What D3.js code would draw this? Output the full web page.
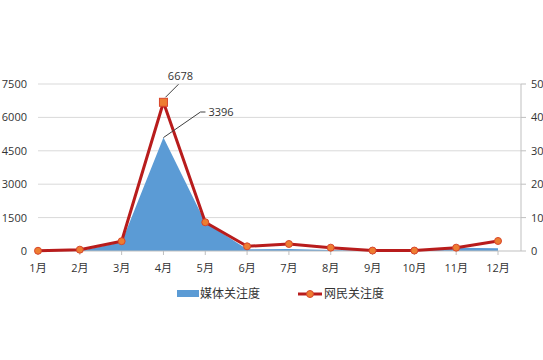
<!doctype html>
<html lang="zh">
<head>
<meta charset="utf-8">
<style>
  body { margin: 0; background: #fff; }
  text { font-family: "Open Sans", "Noto Sans CJK SC", sans-serif; fill: #333; }
</style>
</head>
<body>
<svg id="chart" width="543" height="360"></svg>
<script src="https://cdnjs.cloudflare.com/ajax/libs/d3/7.8.5/d3.min.js"></script>
<script>
// data
var months = ["1月","2月","3月","4月","5月","6月","7月","8月","9月","10月","11月","12月"];
var media = [0, 0, 260, 3396, 860, 50, 60, 30, 10, 10, 100, 80];        // 媒体关注度, right axis
var netizen = [10, 60, 440, 6678, 1290, 210, 315, 150, 20, 20, 150, 450]; // 网民关注度, left axis
var leftTicks = [0, 1500, 3000, 4500, 6000, 7500];
var rightTicks = [0, 1000, 2000, 3000, 4000, 5000];

var svg = d3.select("#chart");
var x0 = 38, x1 = 498, xr = 521, yb = 251, yt = 84;

var x = d3.scalePoint().domain(months).range([x0, x1]);
var yl = d3.scaleLinear().domain([0, 7500]).range([yb, yt]);
var yr = d3.scaleLinear().domain([0, 5000]).range([yb, yt]);

// gridlines
svg.append("g").selectAll("line")
   .data(leftTicks.slice(1))
   .enter().append("line")
   .attr("x1", x0).attr("x2", xr)
   .attr("y1", function(d){ return yl(d); })
   .attr("y2", function(d){ return yl(d); })
   .attr("stroke", "#d9d9d9").attr("stroke-width", 1);

// left axis labels
svg.append("g").selectAll("text")
   .data(leftTicks)
   .enter().append("text")
   .attr("x", 27).attr("y", function(d){ return yl(d) + 4; })
   .attr("text-anchor", "end").attr("font-size", 11)
   .text(function(d){ return d; });

// right axis (labels run past the right edge, as in the original)
svg.append("line").attr("x1", xr).attr("x2", xr).attr("y1", yt).attr("y2", yb)
   .attr("stroke", "#bfbfbf");
var ra = svg.append("g");
ra.selectAll("line").data(rightTicks).enter().append("line")
  .attr("x1", xr).attr("x2", xr + 5)
  .attr("y1", function(d){ return yr(d); }).attr("y2", function(d){ return yr(d); })
  .attr("stroke", "#bfbfbf");
ra.selectAll("text").data(rightTicks).enter().append("text")
  .attr("x", 531).attr("y", function(d){ return yr(d) + 4; })
  .attr("font-size", 11)
  .text(function(d){ return d; });

// area
var area = d3.area()
  .x(function(d, i){ return x(months[i]); })
  .y0(yb)
  .y1(function(d){ return yr(d); });
svg.append("path").datum(media).attr("d", area).attr("fill", "#5b9bd5");

// category axis
svg.append("line").attr("x1", x0).attr("x2", xr).attr("y1", yb).attr("y2", yb)
   .attr("stroke", "#bfbfbf");
var ca = svg.append("g");
ca.selectAll("line").data(months).enter().append("line")
  .attr("x1", function(d){ return x(d); }).attr("x2", function(d){ return x(d); })
  .attr("y1", yb).attr("y2", yb + 4).attr("stroke", "#bfbfbf");
ca.selectAll("text").data(months).enter().append("text")
  .attr("x", function(d){ return x(d); }).attr("y", 272)
  .attr("text-anchor", "middle").attr("font-size", 11)
  .text(function(d){ return d; });

// line
var line = d3.line()
  .x(function(d, i){ return x(months[i]); })
  .y(function(d){ return yl(d); });
svg.append("path").datum(netizen).attr("d", line)
   .attr("fill", "none").attr("stroke", "#b81c1c").attr("stroke-width", 3)
   .attr("stroke-linejoin", "round");

var pts = netizen.map(function(v, i){ return {m: months[i], v: v, i: i}; });
svg.append("g").selectAll("circle")
   .data(pts.filter(function(p){ return p.i !== 3; }))
   .enter().append("circle")
   .attr("cx", function(p){ return x(p.m); })
   .attr("cy", function(p){ return yl(p.v); })
   .attr("r", 3.5)
   .attr("fill", "#ed7d31").attr("stroke", "#d9462b").attr("stroke-width", 1);
// the peak point is drawn as a square marker
svg.append("rect")
   .attr("x", x(months[3]) - 4).attr("y", yl(netizen[3]) - 4)
   .attr("width", 8).attr("height", 8)
   .attr("fill", "#ed7d31").attr("stroke", "#d9462b");

// data labels with leader lines
var px = x(months[3]);
svg.append("path")
   .attr("d", "M" + (px + 2) + "," + (yl(6678) - 5) + "L" + (px + 15) + "," + (yl(6678) - 18))
   .attr("stroke", "#404040").attr("fill", "none");
svg.append("text").attr("x", px + 17).attr("y", 80).attr("text-anchor", "middle")
   .attr("font-size", 11).text(netizen[3]);
svg.append("path")
   .attr("d", "M" + px + "," + yr(3396) + "L" + (px + 37) + "," + 112 + "L" + (px + 42) + "," + 112)
   .attr("stroke", "#404040").attr("fill", "none");
svg.append("text").attr("x", px + 45).attr("y", 116)
   .attr("font-size", 11).text(media[3]);

// legend
var lg = svg.append("g");
lg.append("rect").attr("x", 177).attr("y", 290).attr("width", 22).attr("height", 7).attr("fill", "#5b9bd5");
lg.append("text").attr("x", 200).attr("y", 298).attr("font-size", 12).text("媒体关注度");
lg.append("line").attr("x1", 298).attr("x2", 322).attr("y1", 294).attr("y2", 294)
  .attr("stroke", "#b81c1c").attr("stroke-width", 3);
lg.append("circle").attr("cx", 310).attr("cy", 294).attr("r", 3.5)
  .attr("fill", "#ed7d31").attr("stroke", "#d9462b");
lg.append("text").attr("x", 324).attr("y", 298).attr("font-size", 12).text("网民关注度");
</script>
</body>
</html>
